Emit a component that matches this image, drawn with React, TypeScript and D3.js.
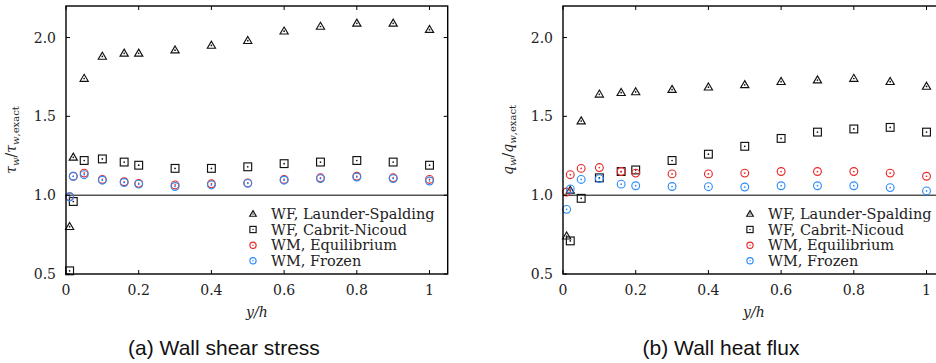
import React from "react";
import * as d3 from "d3";

// ---- data ----
const yh = [0.01, 0.02, 0.05, 0.1, 0.16, 0.2, 0.3, 0.4, 0.5, 0.6, 0.7, 0.8, 0.9, 1.0];

const tauLS = [0.8, 1.24, 1.74, 1.88, 1.9, 1.9, 1.92, 1.95, 1.98, 2.04, 2.07, 2.09, 2.09, 2.05];
const tauCN = [0.52, 0.96, 1.22, 1.23, 1.21, 1.19, 1.17, 1.17, 1.18, 1.2, 1.21, 1.22, 1.21, 1.19];
const tauEq = [0.99, 1.12, 1.14, 1.1, 1.085, 1.075, 1.065, 1.072, 1.078, 1.1, 1.11, 1.12, 1.11, 1.1];
const tauFr = [0.99, 1.12, 1.13, 1.095, 1.08, 1.07, 1.055, 1.065, 1.075, 1.095, 1.105, 1.115, 1.105, 1.09];

const qLS = [0.74, 1.03, 1.47, 1.64, 1.65, 1.655, 1.67, 1.685, 1.7, 1.72, 1.73, 1.74, 1.72, 1.69];
const qCN: (number | null)[] = [null, 0.71, 0.98, 1.11, 1.15, 1.16, 1.22, 1.26, 1.31, 1.36, 1.4, 1.42, 1.43, 1.4];
const qEq = [1.02, 1.13, 1.17, 1.175, 1.15, 1.14, 1.135, 1.135, 1.14, 1.15, 1.15, 1.15, 1.14, 1.12];
const qFr = [0.91, 1.04, 1.1, 1.105, 1.07, 1.06, 1.055, 1.054, 1.052, 1.06, 1.06, 1.06, 1.048, 1.027];

const seriesNames = ["WF, Launder-Spalding", "WF, Cabrit-Nicoud", "WM, Equilibrium", "WM, Frozen"];
const xTicks = [0, 0.2, 0.4, 0.6, 0.8, 1];
const xTickLabels = ["0", "0.2", "0.4", "0.6", "0.8", "1"];
const yTicks = [0.5, 1.0, 1.5, 2.0];
const yTickLabels = ["0.5", "1.0", "1.5", "2.0"];
const captions = ["(a) Wall shear stress", "(b) Wall heat flux"];

const RED = "#e8282a";
const BLUE = "#2f8cf5";
const SERIF = "'DejaVu Serif', 'Liberation Serif', serif";

const W = 936;
const H = 363;
const TOP = 6;
const BOTTOM = 274;
const PW = 381.7;

type MarkerKind = "tri" | "sq" | "circ";

function Marker({ kind, color, x, y, s = 1 }: { kind: MarkerKind; color: string; x: number; y: number; s?: number }) {
  const sw = 1.15;
  let shape: React.ReactNode;
  if (kind === "tri") {
    shape = <path d={`M0,${-4.2 * s}L${4.1 * s},${2.8 * s}L${-4.1 * s},${2.8 * s}Z`} fill="none" stroke={color} strokeWidth={sw} />;
  } else if (kind === "sq") {
    shape = <rect x={-3.9 * s} y={-3.9 * s} width={7.8 * s} height={7.8 * s} fill="none" stroke={color} strokeWidth={sw} />;
  } else {
    shape = <circle r={3.9 * s} fill="none" stroke={color} strokeWidth={sw} />;
  }
  return (
    <g transform={`translate(${x},${y})`}>
      {shape}
      <circle r={0.85 * s} fill={color} />
    </g>
  );
}

function Panel({ left, series, sym, caption }: { left: number; series: (number | null)[][]; sym: string; caption: string }) {
  const x = d3.scaleLinear().domain([0, 1.05]).range([left, left + PW]);
  const y = d3.scaleLinear().domain([0.5, 2.2]).range([BOTTOM, TOP]);
  const kinds: MarkerKind[] = ["tri", "sq", "circ", "circ"];
  const colors = ["#111", "#111", RED, BLUE];
  const right = left + PW;
  const cx = (left + right) / 2;
  const legX = left + 187;
  const legY = [214, 229.5, 245.3, 260.8];
  return (
    <g>
      {/* reference line */}
      <line x1={left} x2={right} y1={y(1)} y2={y(1)} stroke="#000" strokeWidth={1} />
      {/* points */}
      {series.map((vals, si) =>
        vals.map((v, i) =>
          v == null ? null : <Marker key={`${si}-${i}`} kind={kinds[si]} color={colors[si]} x={x(yh[i])} y={y(v)} />
        )
      )}
      {/* frame */}
      <rect x={left} y={TOP} width={PW} height={BOTTOM - TOP} fill="none" stroke="#000" strokeWidth={1.4} />
      {/* ticks */}
      {xTicks.map((t, i) => (
        <g key={`xt${i}`}>
          <line x1={x(t)} x2={x(t)} y1={BOTTOM} y2={BOTTOM - 4} stroke="#000" strokeWidth={1} />
          <line x1={x(t)} x2={x(t)} y1={TOP} y2={TOP + 4} stroke="#000" strokeWidth={1} />
          <text x={x(t)} y={295} textAnchor="middle" fontFamily={SERIF} fontSize={14} fill="#222">
            {xTickLabels[i]}
          </text>
        </g>
      ))}
      {yTicks.map((t, i) => (
        <g key={`yt${i}`}>
          <line x1={left} x2={left + 4} y1={y(t)} y2={y(t)} stroke="#000" strokeWidth={1} />
          <line x1={right} x2={right - 4} y1={y(t)} y2={y(t)} stroke="#000" strokeWidth={1} />
          <text x={left - 10} y={y(t) + 5} textAnchor="end" fontFamily={SERIF} fontSize={14} fill="#222">
            {yTickLabels[i]}
          </text>
        </g>
      ))}
      {/* x label */}
      <text x={cx} y={317} textAnchor="middle" fontFamily={SERIF} fontSize={14} fontStyle="italic" fill="#222">
        y/h
      </text>
      {/* y label */}
      <text
        transform={`translate(${left - 50},${(TOP + BOTTOM) / 2}) rotate(-90)`}
        textAnchor="middle"
        fontFamily={SERIF}
        fontSize={14}
        fill="#222"
      >
        <tspan fontStyle="italic">{sym}</tspan>
        <tspan fontStyle="italic" fontSize={10} dy={3}>w</tspan>
        <tspan dy={-3}>/</tspan>
        <tspan fontStyle="italic">{sym}</tspan>
        <tspan fontStyle="italic" fontSize={10} dy={3}>w</tspan>
        <tspan fontSize={10}>,exact</tspan>
      </text>
      {/* legend */}
      {seriesNames.map((n, i) => (
        <g key={`lg${i}`}>
          <Marker kind={kinds[i]} color={colors[i]} x={legX} y={legY[i]} s={0.8} />
          <text x={legX + 18} y={legY[i] + 5} fontFamily={SERIF} fontSize={14.5} fill="#222">
            {n}
          </text>
        </g>
      ))}
      {/* caption */}
      <text x={left + 158} y={355} textAnchor="middle" fontFamily="'Liberation Sans', Arial, sans-serif" fontSize={21} fill="#111">
        {caption}
      </text>
    </g>
  );
}

export default function App() {
  return (
    <svg
      width={W}
      height={H}
      viewBox={`0 0 ${W} ${H}`}
      style={{ position: "absolute", left: 0, top: 0, background: "#fff" }}
    >
      <rect width={W} height={H} fill="#fff" />
      <Panel left={66} series={[tauLS, tauCN, tauEq, tauFr]} sym="τ" caption={captions[0]} />
      <Panel left={563} series={[qLS, qCN, qEq, qFr]} sym="q" caption={captions[1]} />
    </svg>
  );
}
